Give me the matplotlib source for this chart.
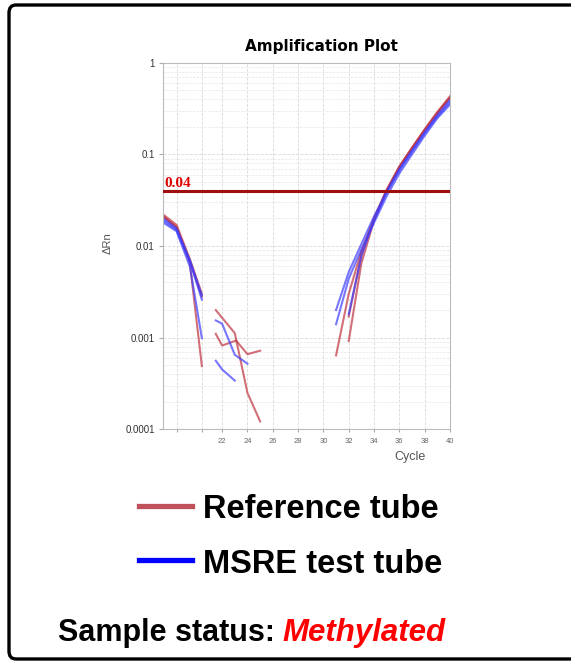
import matplotlib.pyplot as plt
from matplotlib.patches import FancyBboxPatch
from matplotlib.lines import Line2D
from matplotlib.ticker import FixedLocator, NullFormatter

plt.rcParams['font.family'] = ['Liberation Sans', 'DejaVu Sans']

W, H = 571, 661

# early cycles (left part of the plot)
early_x = [17.35, 18.4, 19.45, 20.4]
early_ref = [
    [0.021, 0.016, 0.0068, 0.0028],
    [0.022, 0.017, 0.0072, 0.0030],
    [0.021, 0.016, 0.0065, 0.00049],
]
early_msre = [
    [0.019, 0.015, 0.0068, 0.0026],
    [0.018, 0.0145, 0.0060, 0.00099],
    [0.020, 0.0155, 0.0070, 0.0029],
]

# noisy fragments around cycle 22-25
mid_ref_x = [[21.5, 23.0, 24.0, 25.0], [21.5, 22.0, 23.1, 24.0, 25.0]]
mid_ref_y = [[0.0020, 0.00112, 0.00025, 0.000122],
             [0.0011, 0.00082, 0.00093, 0.00066, 0.00072]]
mid_msre_x = [[21.5, 22.0, 23.0, 24.0], [21.5, 22.0, 23.0]]
mid_msre_y = [[0.00154, 0.00142, 0.00065, 0.00052],
              [0.00056, 0.00045, 0.00034]]

# amplification curves (cycles 31-40)
late_x = [31, 32, 33, 34, 35, 36, 37, 38, 39, 40]
late_ref = [
    [0.00064, 0.0030, 0.0088, 0.020, 0.041, 0.074, 0.118, 0.185, 0.285, 0.420],
    [None, 0.00092, 0.0065, 0.019, 0.040, 0.073, 0.118, 0.188, 0.290, 0.430],
    [None, 0.0017, 0.0080, 0.020, 0.041, 0.072, 0.115, 0.182, 0.278, 0.410],
]
late_msre = [
    [0.0020, 0.0052, 0.0105, 0.021, 0.039, 0.067, 0.108, 0.170, 0.258, 0.370],
    [0.0014, 0.0044, 0.0092, 0.018, 0.035, 0.062, 0.100, 0.160, 0.248, 0.350],
    [None, 0.0018, 0.0078, 0.019, 0.039, 0.069, 0.110, 0.175, 0.268, 0.390],
]

threshold = 0.04
xticks = [22, 24, 26, 28, 30, 32, 34, 36, 38, 40]
extra_ticks = [18.4, 20.4]
yticks = [0.0001, 0.001, 0.01, 0.1, 1]
ylabels = ['0.0001', '0.001', '0.01', '0.1', '1']

red = '#bf3340'
blue = '#3d3dff'

fig = plt.figure(figsize=(W / 100, H / 100), dpi=100)

# outer frame
frame = FancyBboxPatch((9 / W, 2 / H), 600 / W, 654 / H,
                       boxstyle='round,pad=0,rounding_size=0.012',
                       transform=fig.transFigure, fill=False,
                       edgecolor='black', linewidth=2.4)
fig.patches.append(frame)

ax = fig.add_axes([163 / W, 1 - 429.3 / H, 287 / W, 366.6 / H])
ax.set_yscale('log')
ax.set_xlim(17.33, 40)
ax.set_ylim(0.0001, 1)

ax.grid(True, which='major', color='#d9d9d9', linestyle='--', linewidth=0.6)
ax.grid(True, which='minor', axis='y', color='#e6e6e6', linestyle='--', linewidth=0.5)

def draw(xs, ys, c):
    pts = [(x, y) for x, y in zip(xs, ys) if y is not None]
    ax.plot([p[0] for p in pts], [p[1] for p in pts], color=c, lw=1.5,
            alpha=0.7, solid_joinstyle='round')

for ys in early_ref:
    draw(early_x, ys, red)
for ys in early_msre:
    draw(early_x, ys, blue)
for xs, ys in zip(mid_ref_x, mid_ref_y):
    draw(xs, ys, red)
for xs, ys in zip(mid_msre_x, mid_msre_y):
    draw(xs, ys, blue)
for ys in late_ref:
    draw(late_x, ys, red)
for ys in late_msre:
    draw(late_x, ys, blue)

ax.axhline(threshold, color='#a00d0d', lw=2.2, zorder=5)
ax.text(17.42, threshold * 1.02, '0.04', color='#e00000', fontsize=11,
        family='Liberation Serif', fontweight='bold', va='bottom', ha='left',
        zorder=6)

ax.xaxis.set_major_locator(FixedLocator(extra_ticks + xticks))
ax.set_xticklabels([''] * len(extra_ticks) + [str(t) for t in xticks])
ax.yaxis.set_major_locator(FixedLocator(yticks))
ax.set_yticklabels(ylabels)
ax.yaxis.set_minor_formatter(NullFormatter())
ax.tick_params(axis='x', labelsize=5.5, labelcolor='#666666', length=2,
               color='#aaaaaa', pad=4)
ax.tick_params(axis='y', which='major', labelsize=7, labelcolor='#333333',
               length=3, color='#aaaaaa', pad=3)
ax.tick_params(axis='y', which='minor', length=0)
for s in ax.spines.values():
    s.set_color('#bbbbbb')
    s.set_linewidth(0.8)

fig.text(321 / W, 1 - 47 / H, 'Amplification Plot', ha='center', va='center',
         fontsize=11, fontweight='bold', family='DejaVu Sans')
fig.text(410 / W, 1 - 457 / H, 'Cycle', ha='center', va='center',
         fontsize=9, color='#555555')
fig.text(108 / W, 1 - 243 / H, 'ΔRn', ha='center', va='center', rotation=90,
         fontsize=8, color='#555555')

# legend
fig.add_artist(Line2D([139 / W, 192 / W], [1 - 506 / H] * 2, color='#c0505a', lw=3.8))
fig.add_artist(Line2D([139 / W, 192 / W], [1 - 560 / H] * 2, color='#0000ff', lw=3.8))
fig.text(203 / W, 1 - 518 / H, 'Reference tube', ha='left', va='baseline',
         fontsize=23.5, fontweight='bold')
fig.text(203 / W, 1 - 573 / H, 'MSRE test tube', ha='left', va='baseline',
         fontsize=23.5, fontweight='bold')

fig.text(58 / W, 1 - 641 / H, 'Sample status:', ha='left', va='baseline',
         fontsize=22, fontweight='bold')
fig.text(282 / W, 1 - 641 / H, 'Methylated', ha='left', va='baseline',
         fontsize=22.5, fontweight='bold', fontstyle='italic', color='#ff0000')

fig.savefig('out.png', dpi=100)
